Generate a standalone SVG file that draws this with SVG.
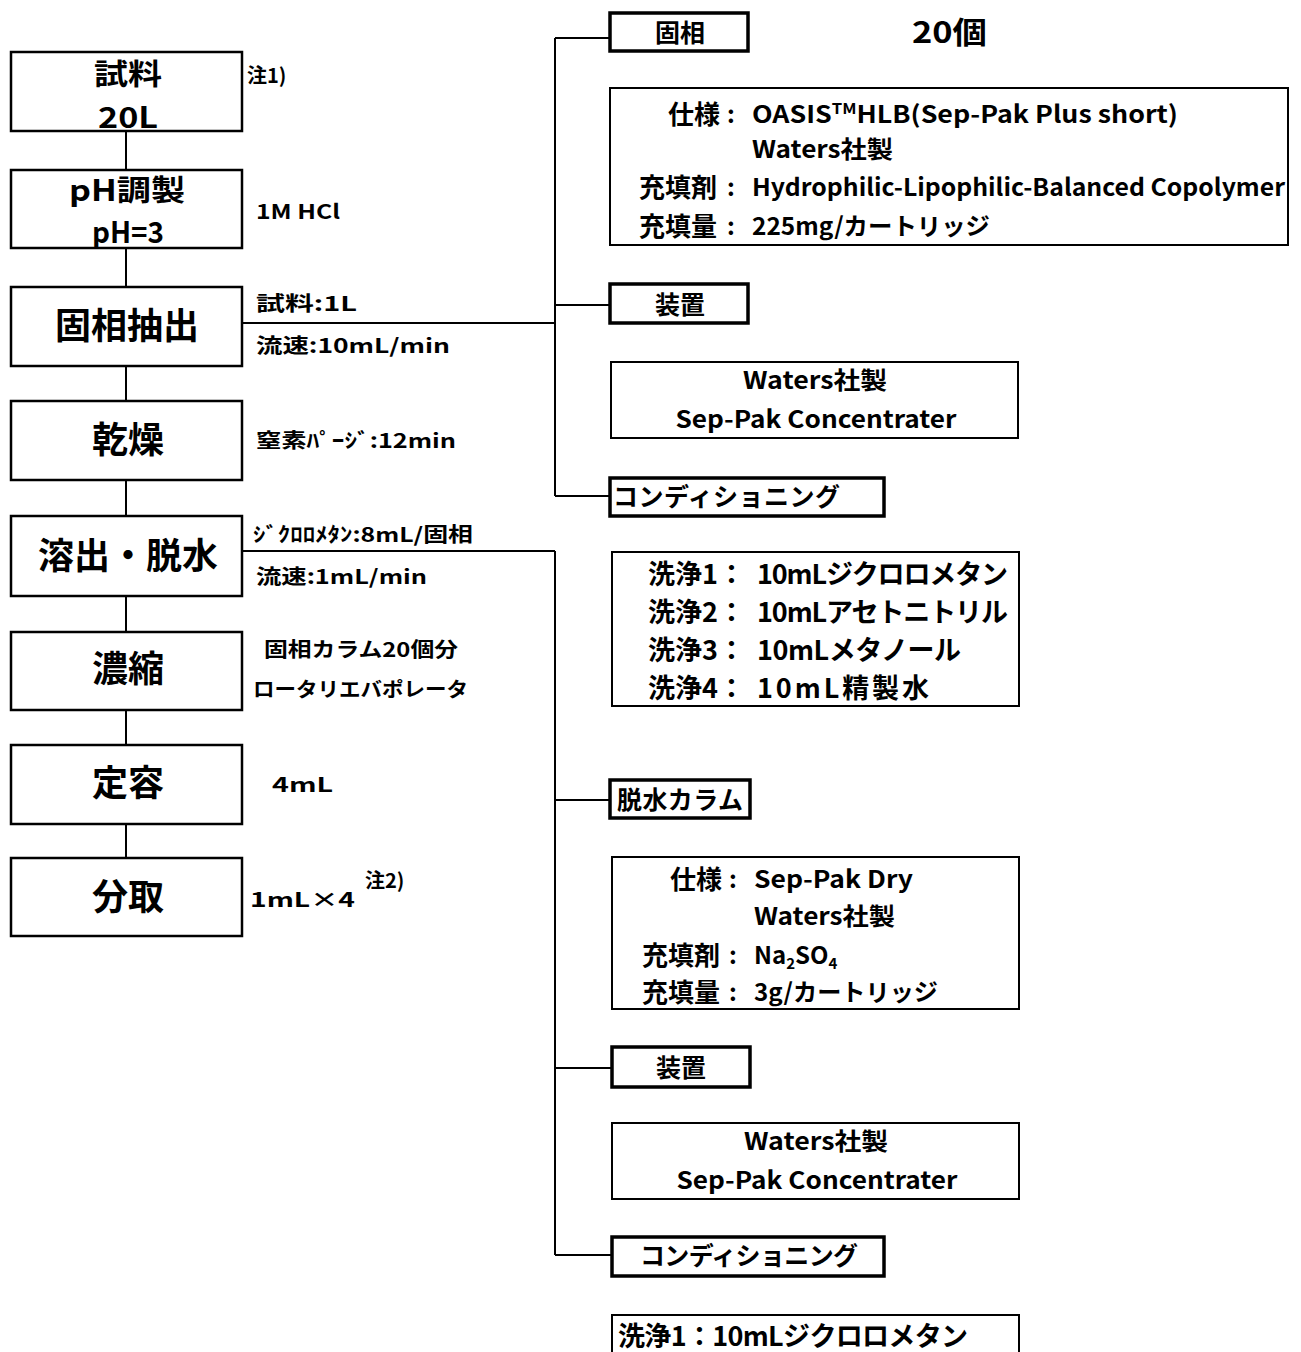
<svg xmlns="http://www.w3.org/2000/svg" width="1301" height="1352" viewBox="0 0 1301 1352">
<style>
.box{fill:#fff;stroke:#000;stroke-width:2.5}
.tag{fill:#fff;stroke:#000;stroke-width:3.5}
.spec{fill:#fff;stroke:#000;stroke-width:2}
.conn{stroke:#000;stroke-width:2;fill:none}
text{font-family:"Noto Sans CJK JP","Noto Sans CJK SC",sans-serif;font-weight:bold;fill:#000}
.big{font-size:36px;text-anchor:middle}
.two{font-size:29px;text-anchor:middle}
.ann{font-size:20px}
.lab{font-size:25px}
.sp{font-size:24px}
.kl{font-size:26px;text-anchor:end}
.mid{text-anchor:middle}
.end{text-anchor:end}
</style>
<rect width="1301" height="1352" fill="#fff"/>
<g id="connectors">
<path class="conn" d="M126 131V170M126 248V287M126 366V401M126 480V516M126 596V632M126 710V745M126 824V858"/>
<path class="conn" d="M242 323H555M555 38V496M555 38H610M555 305H610M555 496H610"/>
<path class="conn" d="M242 551H555M555 551V1255M555 800H610M555 1068H612M555 1255H612"/>
</g>
<g id="n1"><rect class="box" x="11" y="52" width="231" height="79"/><text class="two" x="128" y="85" textLength="68" lengthAdjust="spacingAndGlyphs">試料</text><text class="two" x="128" y="128" textLength="60" lengthAdjust="spacingAndGlyphs">20L</text></g>
<g id="n2"><rect class="box" x="11" y="170" width="231" height="78"/><text class="two" x="127" y="201" textLength="116" lengthAdjust="spacingAndGlyphs">pH調製</text><text class="two" x="128" y="243" textLength="72" lengthAdjust="spacingAndGlyphs">pH=3</text></g>
<g id="n3"><rect class="box" x="11" y="287" width="231" height="79"/><text class="big" x="127" y="339">固相抽出</text></g>
<g id="n4"><rect class="box" x="11" y="401" width="231" height="79"/><text class="big" x="128" y="453">乾燥</text></g>
<g id="n5"><rect class="box" x="11" y="516" width="231" height="80"/><text class="big" x="128" y="569" font-size="34">溶出・脱水</text></g>
<g id="n6"><rect class="box" x="11" y="632" width="231" height="78"/><text class="big" x="128" y="682">濃縮</text></g>
<g id="n7"><rect class="box" x="11" y="745" width="231" height="79"/><text class="big" x="128" y="796">定容</text></g>
<g id="n8"><rect class="box" x="11" y="858" width="231" height="78"/><text class="big" x="128" y="910">分取</text></g>

<g id="annotations">
<text class="ann" x="247" y="83">注1)</text>
<text class="ann" x="256" y="219" textLength="84" lengthAdjust="spacingAndGlyphs">1M HCl</text>
<text class="ann" x="256" y="311" font-size="21" textLength="101" lengthAdjust="spacingAndGlyphs">試料:1L</text>
<text class="ann" x="256" y="353" font-size="21" textLength="194" lengthAdjust="spacingAndGlyphs">流速:10mL/min</text>
<text class="ann" x="256" y="448" font-size="21" textLength="200" lengthAdjust="spacingAndGlyphs">窒素ﾊﾟｰｼﾞ:12min</text>
<text class="ann" x="253" y="542" font-size="18" textLength="220" lengthAdjust="spacingAndGlyphs">ｼﾞｸﾛﾛﾒﾀﾝ:8mL/固相</text>
<text class="ann" x="256" y="584" font-size="21" textLength="171" lengthAdjust="spacingAndGlyphs">流速:1mL/min</text>
<text class="ann" x="264" y="657" textLength="194" lengthAdjust="spacingAndGlyphs">固相カラム20個分</text>
<text class="ann" x="253" y="697" textLength="215" lengthAdjust="spacingAndGlyphs">ロータリエバポレータ</text>
<text class="ann" x="272" y="792" font-size="21" textLength="61" lengthAdjust="spacingAndGlyphs">4mL</text>
<text class="ann" x="250" y="907" font-size="21" textLength="105" lengthAdjust="spacingAndGlyphs">1mL×4</text>
<text class="ann" x="365" y="888" font-size="21">注2)</text>
</g>

<g id="t1"><rect class="tag" x="610" y="13" width="138" height="38"/><text class="lab mid" x="680" y="42" font-size="26">固相</text></g>
<text x="912" y="43" font-size="30" textLength="75" lengthAdjust="spacingAndGlyphs">20個</text>
<g id="s1"><rect class="spec" x="610" y="88" width="678" height="157"/>
<text class="kl" x="720" y="124">仕様</text><text class="sp" x="727" y="123">:</text>
<text class="sp" x="752" y="123" textLength="426" lengthAdjust="spacingAndGlyphs">OASIS<tspan font-size="15" dy="-9">TM</tspan><tspan dy="9">HLB(Sep-Pak Plus short)</tspan></text>
<text class="sp" x="752" y="158" textLength="141" lengthAdjust="spacingAndGlyphs">Waters社製</text>
<text class="kl" x="717" y="197">充填剤</text><text class="sp" x="727" y="196">:</text>
<text class="sp" x="752" y="196" textLength="533" lengthAdjust="spacingAndGlyphs">Hydrophilic-Lipophilic-Balanced Copolymer</text>
<text class="kl" x="717" y="236">充填量</text><text class="sp" x="727" y="235">:</text>
<text class="sp" x="752" y="235" textLength="238" lengthAdjust="spacingAndGlyphs">225mg/カートリッジ</text>
</g>
<g id="t2"><rect class="tag" x="610" y="284" width="138" height="39"/><text class="lab mid" x="680" y="314" font-size="26">装置</text></g>
<g id="d1"><rect class="spec" x="611" y="362" width="407" height="76"/>
<text class="sp mid" x="815" y="389" textLength="144" lengthAdjust="spacingAndGlyphs">Waters社製</text>
<text class="sp mid" x="816" y="428" textLength="281" lengthAdjust="spacingAndGlyphs">Sep-Pak Concentrater</text>
</g>
<g id="t3"><rect class="tag" x="610" y="478" width="274" height="38"/><text class="lab" x="613" y="506" textLength="227">コンディショニング</text></g>
<g id="c1"><rect class="spec" x="612" y="552" width="407" height="154"/>
<text font-size="27" x="648" y="584">洗浄1：</text><text font-size="27" x="757" y="584" textLength="251">10mLジクロロメタン</text>
<text font-size="27" x="648" y="622">洗浄2：</text><text font-size="27" x="757" y="622" textLength="251">10mLアセトニトリル</text>
<text font-size="27" x="648" y="660">洗浄3：</text><text font-size="27" x="757" y="660" textLength="204">10mLメタノール</text>
<text font-size="27" x="648" y="698">洗浄4：</text><text font-size="27" x="757" y="698" textLength="172">10mL精製水</text>
</g>

<g id="t4"><rect class="tag" x="610" y="780" width="140" height="38"/><text class="lab" x="617" y="809" textLength="126">脱水カラム</text></g>
<g id="s2"><rect class="spec" x="612" y="857" width="407" height="152"/>
<text class="kl" x="722" y="889">仕様</text><text class="sp" x="729" y="888">:</text>
<text class="sp" x="754" y="888" textLength="159" lengthAdjust="spacingAndGlyphs">Sep-Pak Dry</text>
<text class="sp" x="754" y="925" textLength="141" lengthAdjust="spacingAndGlyphs">Waters社製</text>
<text class="kl" x="720" y="965">充填剤</text><text class="sp" x="729" y="964">:</text>
<text class="sp" x="754" y="964">Na<tspan font-size="15" dy="5">2</tspan><tspan dy="-5">SO</tspan><tspan font-size="15" dy="5">4</tspan></text>
<text class="kl" x="720" y="1002">充填量</text><text class="sp" x="729" y="1001">:</text>
<text class="sp" x="754" y="1001" textLength="184" lengthAdjust="spacingAndGlyphs">3g/カートリッジ</text>
</g>
<g id="t5"><rect class="tag" x="612" y="1047" width="138" height="40"/><text class="lab mid" x="681" y="1077" font-size="26">装置</text></g>
<g id="d2"><rect class="spec" x="612" y="1123" width="407" height="76"/>
<text class="sp mid" x="816" y="1150" textLength="144" lengthAdjust="spacingAndGlyphs">Waters社製</text>
<text class="sp mid" x="817" y="1189" textLength="281" lengthAdjust="spacingAndGlyphs">Sep-Pak Concentrater</text>
</g>
<g id="t6"><rect class="tag" x="612" y="1237" width="272" height="39"/><text class="lab" x="640" y="1265" textLength="218">コンディショニング</text></g>
<g id="c2"><rect class="spec" x="612" y="1315" width="407" height="60"/>
<text font-size="27" x="618" y="1346" textLength="350">洗浄1：10mLジクロロメタン</text>
</g>
</svg>
